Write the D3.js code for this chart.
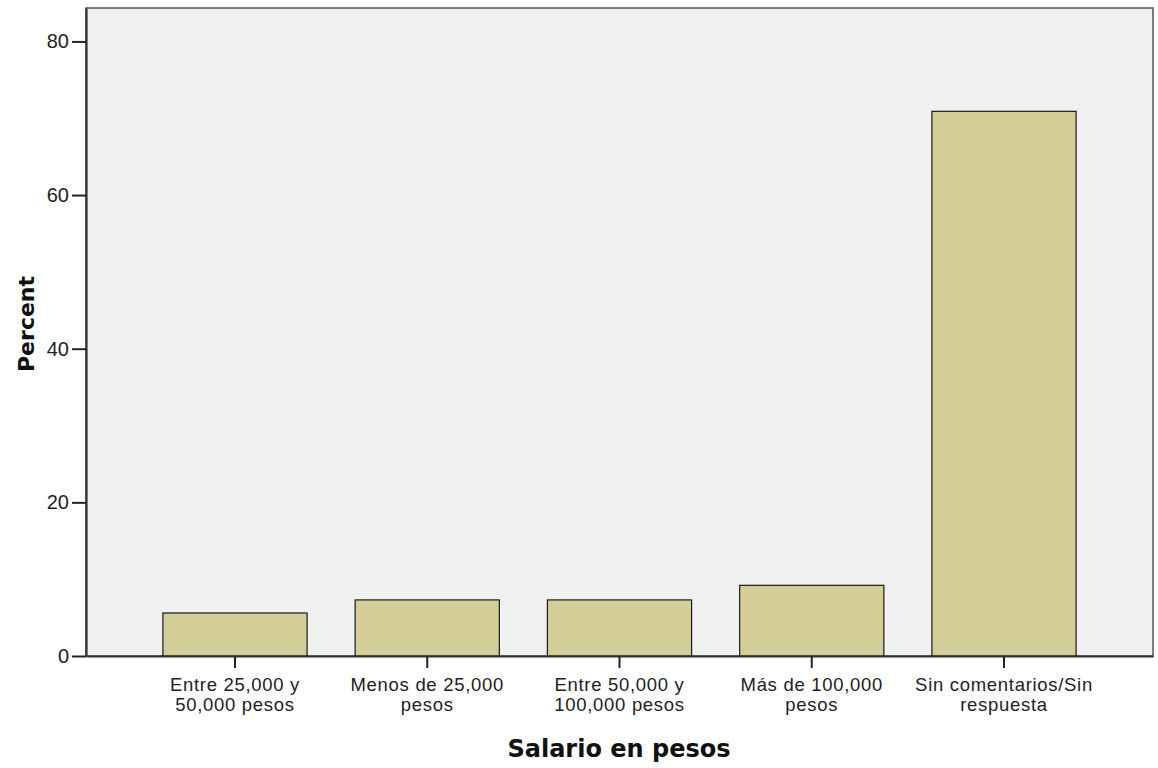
<!DOCTYPE html>
<html>
<head>
<meta charset="utf-8">
<script src="https://cdn.jsdelivr.net/npm/d3@7"></script>
<style>
    body { margin: 0; background: #fff; }
    svg { display: block; }
</style>
</head>
<body>
<div class="chart"></div>
<script>
// data
const categories = [
    ["Entre 25,000 y", "50,000 pesos"],
    ["Menos de 25,000", "pesos"],
    ["Entre 50,000 y", "100,000 pesos"],
    ["Más de 100,000", "pesos"],
    ["Sin comentarios/Sin", "respuesta"]
]
const percents = [5.6, 7.3, 7.3, 9.2, 70.9]
const yTicks = [0, 20, 40, 60, 80]

const W = 1158, H = 768
const margin = { top: 8, right: 5, bottom: 112, left: 86 }
const width = W - margin.left - margin.right
const height = H - margin.top - margin.bottom

const keys = categories.map(c => c.join(" "))

const x = d3.scaleBand()
    .domain(keys)
    .range([0, width])
    .paddingInner(0.25)
    .paddingOuter(0.4)
const y = d3.scaleLinear().domain([0, 84.35]).range([height, 0])

const svg = d3.select(".chart")
    .append("svg")
    .attr("width", W)
    .attr("height", H)
    .append("g")
    .attr("transform", `translate(${margin.left}, ${margin.top})`)

//plot background
svg.append("rect")
    .attr("width", width)
    .attr("height", height)
    .attr("fill", "#f0f0f0")
    .attr("stroke", "#555")
    .attr("stroke-width", 1.5)

//bars
svg.selectAll(".bar")
    .data(percents)
    .join("rect")
    .attr("class", "bar")
    .attr("x", (d, i) => x(keys[i]))
    .attr("y", d => y(d))
    .attr("width", x.bandwidth())
    .attr("height", d => height - y(d))
    .attr("fill", "#d3ce97")
    .attr("stroke", "#1a1a1a")
    .attr("stroke-width", 1.2)

//y axis
svg.append("g")
    .style("font-family", "'Liberation Sans', Arial, sans-serif")
    .style("font-size", "20px")
    .call(d3.axisLeft(y).tickValues(yTicks).tickSize(14).tickSizeOuter(0).tickPadding(3))
    .call(g => g.select(".domain").attr("stroke", "#333").attr("stroke-width", 2.2))
    .call(g => g.selectAll(".tick line").attr("stroke", "#222").attr("stroke-width", 2))
    .selectAll(".tick text")
    .attr("fill", "#222")

//x axis
const xAxis = svg.append("g")
    .attr("transform", `translate(0, ${height})`)
    .call(d3.axisBottom(x).tickSize(12).tickSizeOuter(0).tickFormat(""))
    .call(g => g.select(".domain").attr("stroke", "#333").attr("stroke-width", 2.2))
    .call(g => g.selectAll(".tick line").attr("stroke", "#222").attr("stroke-width", 2))

xAxis.selectAll(".tick")
    .append("text")
    .attr("fill", "#222")
    .attr("text-anchor", "middle")
    .style("font-family", "'Liberation Sans', Arial, sans-serif")
    .style("font-size", "18.5px")
    .style("letter-spacing", "0.7px")
    .selectAll("tspan")
    .data((d, i) => categories[i])
    .join("tspan")
    .attr("x", 0)
    .attr("y", (d, i) => 35 + i * 20)
    .text(d => d)

//x axis title
svg.append("text")
    .attr("x", 533)
    .attr("y", height + 101)
    .attr("text-anchor", "middle")
    .style("font-family", "'DejaVu Sans', sans-serif")
    .style("font-size", "24px")
    .style("font-weight", "bold")
    .attr("fill", "#111")
    .text("Salario en pesos")

//y axis title
svg.append("text")
    .attr("transform", "rotate(-90)")
    .attr("x", -(324 - margin.top))
    .attr("y", 34 - margin.left)
    .attr("text-anchor", "middle")
    .style("font-family", "'DejaVu Sans', sans-serif")
    .style("font-size", "22px")
    .style("font-weight", "bold")
    .attr("fill", "#111")
    .text("Percent")
</script>
</body>
</html>
